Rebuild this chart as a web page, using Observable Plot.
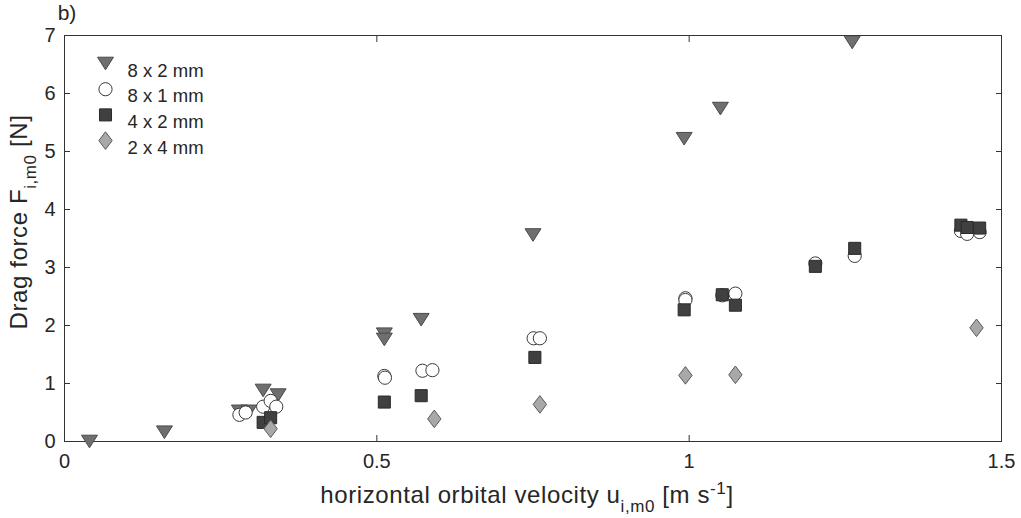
<!DOCTYPE html>
<html><head><meta charset="utf-8">
<script src="https://cdn.jsdelivr.net/npm/d3@7"></script>
<script src="https://cdn.jsdelivr.net/npm/@observablehq/plot@0.6"></script>
<style>body{margin:0;background:#fff} #chart{width:1021px;height:518px}</style>
</head><body><div id="chart"></div>
<script>
// ---- data ----
const seriesLabels = ["8 x 2 mm", "8 x 1 mm", "4 x 2 mm", "2 x 4 mm"];

const tri8x2X = [0.04, 0.16, 0.28, 0.295, 0.318, 0.342, 0.512, 0.512, 0.571, 0.750, 0.992, 1.05, 1.261];
const tri8x2Y = [0.0, 0.16, 0.52, 0.52, 0.88, 0.80, 1.85, 1.76, 2.10, 3.56, 5.22, 5.74, 6.88];

const circ8x1X = [0.28, 0.29, 0.318, 0.33, 0.339, 0.512, 0.513, 0.573, 0.589, 0.751, 0.761, 0.994, 0.994, 1.053, 1.074, 1.202, 1.265, 1.435, 1.445, 1.465];
const circ8x1Y = [0.46, 0.50, 0.60, 0.70, 0.60, 1.13, 1.10, 1.22, 1.23, 1.78, 1.78, 2.47, 2.44, 2.52, 2.55, 3.07, 3.20, 3.63, 3.58, 3.61];

const sq4x2X = [0.318, 0.33, 0.512, 0.571, 0.753, 0.992, 1.053, 1.074, 1.202, 1.265, 1.435, 1.445, 1.465];
const sq4x2Y = [0.33, 0.41, 0.68, 0.79, 1.45, 2.27, 2.53, 2.35, 3.02, 3.33, 3.73, 3.69, 3.68];

const dia2x4X = [0.33, 0.592, 0.761, 0.994, 1.074, 1.460];
const dia2x4Y = [0.22, 0.39, 0.64, 1.14, 1.15, 1.96];

const xTicks = [0, 0.5, 1, 1.5];
const xTickLabels = ["0", "0.5", "1", "1.5"];
const yTicks = [0, 1, 2, 3, 4, 5, 6, 7];
const yTickLabels = ["0", "1", "2", "3", "4", "5", "6", "7"];

// ---- styling ----
const triDown = {draw(ctx, size) { const r = Math.sqrt(size / Math.PI);
  ctx.moveTo(-0.95 * r, -0.75 * r); ctx.lineTo(0.95 * r, -0.75 * r); ctx.lineTo(0, 0.75 * r); ctx.closePath(); }};
const diamondTall = {draw(ctx, size) { const r = Math.sqrt(size / Math.PI);
  ctx.moveTo(0, -r); ctx.lineTo(0.76 * r, 0); ctx.lineTo(0, r); ctx.lineTo(-0.76 * r, 0); ctx.closePath(); }};

const styles = [
  {symbol: triDown, r: 8.4, fill: "#6f6f6f", stroke: "#4a4a4a"},
  {symbol: "circle", r: 6.6, fill: "#ffffff", stroke: "#3a3a3a"},
  {symbol: "square", r: 6.8, fill: "#404040", stroke: "#2a2a2a"},
  {symbol: diamondTall, r: 8.8, fill: "#a8a8a8", stroke: "#5a5a5a"}
];

const toRows = (xs, ys) => xs.map((x, i) => ({x, y: ys[i]}));
const seriesRows = [toRows(tri8x2X, tri8x2Y), toRows(circ8x1X, circ8x1Y), toRows(sq4x2X, sq4x2Y), toRows(dia2x4X, dia2x4Y)];

const font = "'Liberation Sans', Arial, Helvetica, sans-serif";
const ink = "#262626";

const marks = [Plot.frame({stroke: "#333", strokeWidth: 1})];
seriesRows.forEach((rows, i) => {
  marks.push(Plot.dot(rows, {x: "x", y: "y", ...styles[i], strokeWidth: 1}));
});
// legend (inside the frame, top-left)
seriesLabels.forEach((lab, i) => {
  marks.push(Plot.dot([lab], {frameAnchor: "top-left", dx: 41, dy: 28 + i * 25.7, ...styles[i], strokeWidth: 1}));
  marks.push(Plot.text([lab], {frameAnchor: "top-left", dx: 63, dy: 28 + i * 25.7, text: d => d, textAnchor: "start", fontSize: 18.5, fill: ink}));
});
marks.push(
  Plot.axisX(xTicks, {anchor: "bottom", tickSize: -6, tickPadding: 18, tickFormat: d => xTickLabels[xTicks.indexOf(d)], fontSize: 20, stroke: "#333", fill: ink, label: null}),
  Plot.axisX(xTicks, {anchor: "top", tickSize: -6, tickFormat: () => "", stroke: "#333", label: null}),
  Plot.axisY(yTicks, {anchor: "left", tickSize: -6, tickPadding: 15, tickFormat: d => yTickLabels[yTicks.indexOf(d)], fontSize: 20, stroke: "#333", fill: ink, label: null}),
  Plot.axisY(yTicks, {anchor: "right", tickSize: -6, tickFormat: () => "", stroke: "#333", label: null})
);

const chart = Plot.plot({
  width: 1021, height: 518,
  marginLeft: 64, marginRight: 20, marginTop: 35, marginBottom: 77,
  style: {fontFamily: font, background: "#fff", color: ink, overflow: "visible"},
  x: {domain: [0, 1.5]},
  y: {domain: [0, 7]},
  marks
});
document.getElementById("chart").appendChild(chart);

// ---- labels with sub/superscripts ----
const svg = d3.select(chart);
svg.append("text").attr("x", 67).attr("y", 20).attr("font-size", 21).attr("fill", ink)
  .attr("font-family", font).text("b)");

const xl = svg.append("text").attr("x", 527).attr("y", 503).attr("text-anchor", "middle")
  .attr("font-size", 24).attr("letter-spacing", 0.6).attr("fill", ink).attr("font-family", font);
xl.append("tspan").text("horizontal orbital velocity u");
xl.append("tspan").attr("dy", 9).attr("font-size", 17).text("i,m0");
xl.append("tspan").attr("dy", -9).text(" [m s");
xl.append("tspan").attr("dy", -9).attr("font-size", 17).text("-1");
xl.append("tspan").attr("dy", 9).text("]");

const yl = svg.append("text").attr("transform", "translate(27,222) rotate(-90)").attr("text-anchor", "middle")
  .attr("font-size", 24).attr("letter-spacing", 0.6).attr("fill", ink).attr("font-family", font);
yl.append("tspan").text("Drag force F");
yl.append("tspan").attr("dy", 9).attr("font-size", 17).text("i,m0");
yl.append("tspan").attr("dy", -9).text(" [N]");
</script>
</body></html>
